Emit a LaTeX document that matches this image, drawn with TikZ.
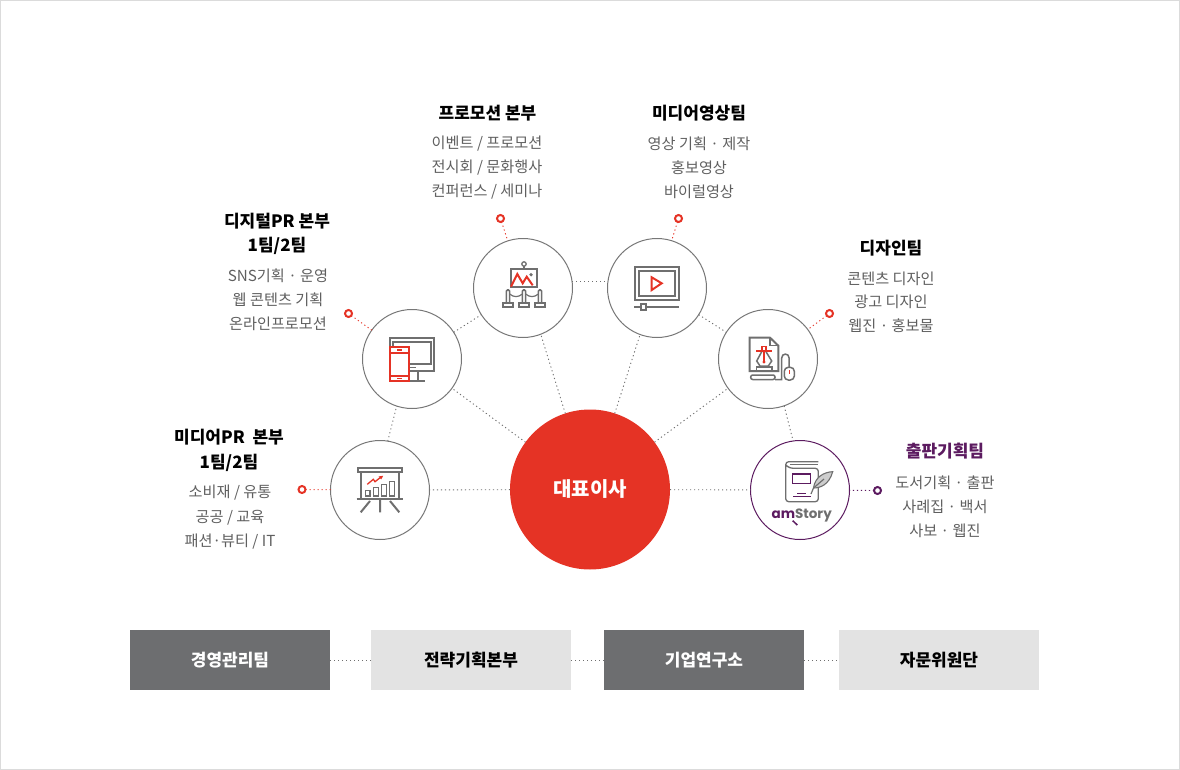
\documentclass[tikz,border=0pt]{standalone}
\usepackage{fontspec}
\setmainfont{Noto Sans CJK KR}
\newfontfamily\logofont{Poppins}
\definecolor{rd}{HTML}{E53325}
\definecolor{pur}{HTML}{5C1B60}
\definecolor{ic}{HTML}{6F6F6F}
\definecolor{dk}{HTML}{6D6E70}
\definecolor{lt}{HTML}{E3E3E3}
\definecolor{bd}{HTML}{5F5F5F}
\definecolor{cl}{HTML}{777777}
\tikzset{
 circ/.style={circle,draw=#1,line width=1pt,fill=white,minimum size=99pt,inner sep=0pt,outer sep=0pt},
 conn/.style={draw=#1,line width=0.9pt,dash pattern=on 1.2pt off 2.8pt},
 dotmark/.style={circle,draw=#1,line width=2pt,fill=white,minimum size=7pt,inner sep=0pt,outer sep=0pt},
 ttl/.style={font=\fontsize{17}{20}\selectfont\bfseries,text=#1,inner sep=0pt},
 ttl/.default=black,
 bdy/.style={font=\fontsize{15.2}{20}\selectfont,text=bd,inner sep=0pt},
 band/.style={minimum width=200pt,minimum height=60pt,inner sep=0pt,outer sep=0pt,font=\fontsize{17}{20}\selectfont\bfseries},
 ig/.style={draw=ic,line width=2pt},
 ir/.style={draw=rd,line width=2pt},
 ip/.style={draw=pur,line width=1.5pt},
}
\begin{document}
\begin{tikzpicture}[x=1pt,y=-1pt]
\useasboundingbox (0,0) rectangle (1180,770);
\draw[draw=black!14,line width=1pt] (0.5,0.5) rectangle (1179.5,769.5);
% named nodes
\node[circle,fill=rd,minimum size=160pt,inner sep=0pt,outer sep=0pt,text=white,font=\fontsize{20}{22}\selectfont\bfseries] (ceo) at (590,489.5) {대표이사};
\node[circ=cl] (c1) at (380,490) {};
\node[circ=cl] (c2) at (412,359) {};
\node[circ=cl] (c3) at (523,288) {};
\node[circ=cl] (c4) at (657,288) {};
\node[circ=cl] (c5) at (768,359) {};
\node[circ=pur] (c6) at (800,490) {};
\node[dotmark=rd] (d1) at (302,489.5) {};
\node[dotmark=rd] (d2) at (348.5,313.5) {};
\node[dotmark=rd] (d3) at (500.5,218.5) {};
\node[dotmark=rd] (d4) at (678.5,218.5) {};
\node[dotmark=rd] (d5) at (829.5,313.5) {};
\node[dotmark=pur] (d6) at (877.5,490.5) {};
% connectors
\draw[conn=ic] (ceo) -- (c1);
\draw[conn=ic] (ceo) -- (c2);
\draw[conn=ic] (ceo.108) -- (c3.291);
\draw[conn=ic] (ceo.72) -- (c4.250);
\draw[conn=ic] (ceo) -- (c5);
\draw[conn=ic] (ceo) -- (c6);
\draw[conn=ic] (c1.81) -- (c2.252);
\draw[conn=ic] (c2) -- (c3);
\draw[conn=ic] (c3.8) -- (c4.172);
\draw[conn=ic] (c4) -- (c5);
\draw[conn=ic] (c5.289) -- (c6.98);
\draw[conn=rd] (d1) -- (c1);
\draw[conn=rd] (d2) -- (c2);
\draw[conn=rd] (d3) -- (c3);
\draw[conn=rd] (d4) -- (c4);
\draw[conn=rd] (d5) -- (c5);
\draw[conn=pur] (d6) -- (c6);
% bands
\node[band,fill=dk,text=white] (b1) at (230,660) {경영관리팀};
\node[band,fill=lt,text=black] (b2) at (471,660) {전략기획본부};
\node[band,fill=dk,text=white] (b3) at (704,660) {기업연구소};
\node[band,fill=lt,text=black] (b4) at (939,660) {자문위원단};
\draw[conn=ic] (b1) -- (b2);
\draw[conn=ic] (b2) -- (b3);
\draw[conn=ic] (b3) -- (b4);
% texts
\node[ttl] (t1a) at (229,437.5) {미디어PR\ \ 본부};
\node[ttl] (t1b) at (229,462.5) {1팀/2팀};
\node[bdy] (t1c) at (230,493) {소비재 / 유통};
\node[bdy] (t1d) at (230,517.5) {공공 / 교육};
\node[bdy] (t1e) at (230,541.5) {패션·뷰티 / IT};
\node[ttl] (t2a) at (277,221.5) {디지털PR 본부};
\node[ttl] (t2b) at (277,245.5) {1팀/2팀};
\node[bdy] (t2c) at (278,276) {SNS기획 · 운영};
\node[bdy] (t2d) at (278,300) {웹 콘텐츠 기획};
\node[bdy] (t2e) at (278,324) {온라인프로모션};
\node[ttl] (t3a) at (487.5,113.5) {프로모션 본부};
\node[bdy] (t3b) at (487,143.5) {이벤트 / 프로모션};
\node[bdy] (t3c) at (487,167.5) {전시회 / 문화행사};
\node[bdy] (t3d) at (487,191.5) {컨퍼런스 / 세미나};
\node[ttl] (t4a) at (699,113.5) {미디어영상팀};
\node[bdy] (t4b) at (699,143.5) {영상 기획 · 제작};
\node[bdy] (t4c) at (699,168) {홍보영상};
\node[bdy] (t4d) at (699,192) {바이럴영상};
\node[ttl] (t5a) at (891,248.5) {디자인팀};
\node[bdy] (t5b) at (891,278.5) {콘텐츠 디자인};
\node[bdy] (t5c) at (891,302) {광고 디자인};
\node[bdy] (t5d) at (891,325.5) {웹진 · 홍보물};
\node[ttl=pur] (t6a) at (945,451.5) {출판기획팀};
\node[bdy] (t6b) at (945,482.5) {도서기획 · 출판};
\node[bdy] (t6c) at (945,506.5) {사례집 · 백서};
\node[bdy] (t6d) at (945,530.5) {사보 · 웹진};
% chart icon
\draw[ig] (357.7,467.7) rectangle (402.3,472.3);
\draw[ig] (361,472.3) -- (361,499.3) (399,472.3) -- (399,499.3) (356.7,499.3) -- (402.7,499.3);
\draw[ig,line width=1.5pt] (365.7,490.7) rectangle (370,496) (373.3,487.3) rectangle (378.3,496) (381.7,484.3) rectangle (386.7,496) (389.7,481.7) rectangle (394.7,496);
\draw[ig] (380,499.3) -- (380,512.3) (370,501) -- (360.7,512.3) (390,501) -- (399.3,512.3);
\draw[ir,line width=1.3pt] (367.3,484.3) -- (373.3,479.3) -- (375,481.7) -- (381,477);
\fill[rd] (383.2,475.8) -- (378.6,476.4) -- (381.2,479.4) -- cycle;
% monitor + phone icon
\draw[ig,line width=2.2pt] (389.7,337.7) rectangle (434.3,371);
\draw[ig] (393.3,341.7) rectangle (430.7,364);
\draw[ig,line width=1.5pt] (410,367.7) -- (416,367.7);
\draw[ig] (418.3,371) -- (418.3,380.7) (408,380.7) -- (425,380.7);
\draw[ir,fill=white] (390,346.7) rectangle (409.3,381);
\draw[ir] (390,352.7) -- (409.3,352.7) (390,375.7) -- (409.3,375.7);
\draw[ir,line width=1.5pt] (397.3,350) -- (402,350) (397.3,378.3) -- (402,378.3);
% exhibit icon
\draw[ig] (510.7,268.7) rectangle (537.3,287);
\draw[ig,line width=1.3pt] (524,264) circle (2.2);
\draw[ig,line width=1.3pt] (524,266.2) -- (524,268.7);
\draw[ir] (511,286.7) -- (517.3,274) -- (522.7,283.3) -- (526.7,276.7) -- (532.7,285.3);
\fill[ic] (531,274.7) circle (1.8);
\draw[ig,line width=1.2pt] (509.6,294) .. controls (514,297.5) and (518,297.5) .. (522.4,294);
\draw[ig,line width=1.2pt] (525.6,294) .. controls (530,297.5) and (534,297.5) .. (538.4,294);
\foreach \x in {508,524,540}{
 \draw[ig,line width=1.6pt,fill=white,rounded corners=1.2pt] (\x-1.6,302) -- (\x-1.6,290) -- (\x+1.6,290) -- (\x+1.6,302);
 \draw[ig,line width=1.6pt,fill=white] (\x-5,302.7) rectangle (\x+5,306.7);
}
% video icon
\draw[ig] (634.7,266.7) rectangle (679.3,300);
\draw[ig] (638.7,270.7) rectangle (675.3,296);
\draw[ir] (651.7,277.3) -- (661.7,283.3) -- (651.7,290) -- cycle;
\draw[ig] (634,306.7) -- (679.3,306.7);
\draw[ig,fill=white,line width=1.6pt] (640.7,304) rectangle (646,310);
% pen tool icon
\draw[ig] (770,337.7) -- (749.7,337.7) -- (749.7,371) -- (778.3,371) -- (778.3,345.7) -- cycle;
\draw[ig,line width=1.5pt] (770,337.7) -- (770,345.7) -- (778.3,345.7);
\draw[ig,line width=1.5pt] (761.7,351.7) -- (756.7,361) -- (760,366) -- (768.3,366) -- (771.7,361) -- (766,351.7);
\draw[ir,line width=1.6pt] (756,350.7) -- (772,350.7) (764,352) -- (764,362);
\draw[ir,line width=1.2pt,fill=white] (762,346.3) rectangle (766,350.3);
\fill[rd] (764,362) circle (1.7);
\draw[ig,line width=1.6pt] (756.3,371) -- (756.3,366.7) -- (771.7,366.7) -- (771.7,371);
\draw[ig,line width=1.5pt,rounded corners=2pt] (750.7,375) rectangle (775,379.5);
\draw[ig,line width=1.5pt] (775,379.5) -- (781.7,379.5) -- (781.7,358) .. controls (781.7,352.8) and (789.1,352.8) .. (789.1,358) -- (789.1,367);
\draw[ig,line width=1.5pt,rounded corners=4pt,fill=white] (784.3,367.3) rectangle (794.3,380);
\draw[ir,line width=1.1pt] (789.2,370) -- (789.2,373.5);
% book icon
\draw[ic,line width=1.3pt,rounded corners=3pt] (818.3,461.7) -- (785.7,461.7) -- (785.7,501.7) -- (818.3,501.7) -- (818.3,468.3) -- (790,468.3) -- (785.7,465);
\draw[ic,line width=1.1pt] (790,464.5) -- (818.3,464.5);
\draw[ip] (792.7,474) rectangle (810.7,483.3);
\draw[ip] (797.3,493.3) -- (806,493.3) (793.3,496.7) -- (810.7,496.7);
\draw[draw=ic,fill=ic!35,line width=1.1pt] (832.7,471.7) .. controls (824,472) and (815,477) .. (813.5,488) .. controls (820,488) and (829,485) .. cycle;
\draw[draw=ic,line width=1.2pt] (813.5,488) -- (811,494) (813.5,488) -- (824,479);
\node[inner sep=0pt,font=\logofont\fontsize{13.5}{16}\selectfont] (logo) at (801.7,515) {\textcolor{pur}{\bfseries am}\textcolor{ic}{\bfseries Story}};
\draw[ip] (792.7,520.7) -- (797.3,525);
\end{tikzpicture}
\end{document}
